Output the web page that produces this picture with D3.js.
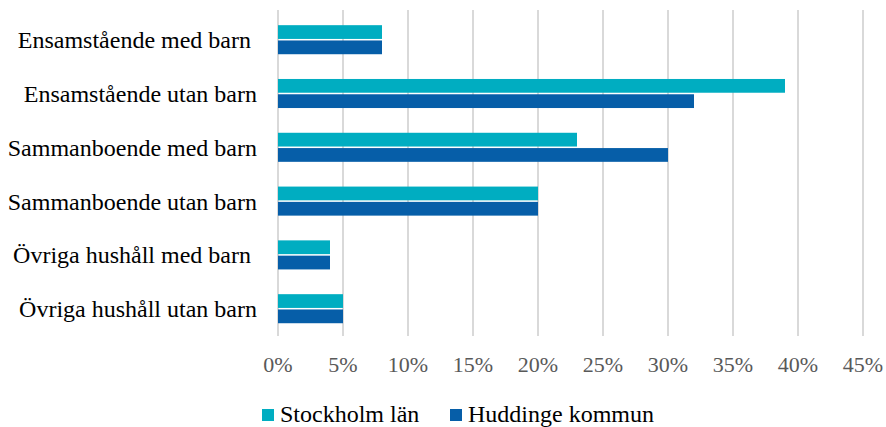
<!DOCTYPE html>
<html lang="sv">

<head>
    <meta charset="UTF-8">
    <title>Hushåll</title>
    <style>
        body { margin: 0; background: #fff; }
    </style>
</head>

<body>
    <svg id="svg" width="886" height="427" font-family="Liberation Serif, serif"></svg>

    <script src="https://d3js.org/d3.v7.min.js"></script>
    <script>
        const categories = [
            'Ensamstående med barn ',
            'Ensamstående utan barn',
            'Sammanboende med barn',
            'Sammanboende utan barn',
            'Övriga hushåll med barn ',
            'Övriga hushåll utan barn'
        ]
        const seriesNames = ['Stockholm län', 'Huddinge kommun']
        const stockholm = [8, 39, 23, 20, 4, 5]
        const huddinge = [8, 32, 30, 20, 4, 5]
        const ticks = [0, 5, 10, 15, 20, 25, 30, 35, 40, 45]
        const colors = ['#00adc1', '#065ea8']

        const data = categories.map((c, i) => ({
            cat: c,
            values: [stockholm[i], huddinge[i]]
        }))

        const svg = d3.select('#svg')

        const xScale = d3.scaleLinear()
            .domain([0, 45])
            .range([278, 863])

        const yScale = d3.scaleBand()
            .domain(categories)
            .range([12.8, 335.6])
            .paddingInner(0.46)
            .paddingOuter(0.23)

        const inner = d3.scaleBand()
            .domain(seriesNames)
            .range([0, yScale.bandwidth()])
            .paddingInner(0.1)

        // gridlines
        svg.append('g')
            .selectAll('line')
            .data(ticks)
            .enter()
            .append('line')
            .attr('x1', d => xScale(d))
            .attr('x2', d => xScale(d))
            .attr('y1', 10)
            .attr('y2', 336)
            .attr('stroke', '#d9d9d9')
            .attr('stroke-width', 2)

        // x tick labels
        svg.append('g')
            .selectAll('text')
            .data(ticks)
            .enter()
            .append('text')
            .attr('x', d => xScale(d))
            .attr('y', 371.5)
            .attr('text-anchor', 'middle')
            .attr('font-family', 'Liberation Serif, serif')
            .attr('font-size', 22)
            .attr('fill', '#595959')
            .text(d => d + '%')

        // bars
        const groups = svg.append('g')
            .selectAll('g')
            .data(data)
            .enter()
            .append('g')
            .attr('transform', d => `translate(0,${yScale(d.cat)})`)

        groups.selectAll('rect')
            .data(d => d.values.map((v, i) => ({ v: v, s: seriesNames[i], i: i })))
            .enter()
            .append('rect')
            .attr('x', xScale(0))
            .attr('y', d => inner(d.s))
            .attr('width', d => xScale(d.v) - xScale(0))
            .attr('height', inner.bandwidth())
            .attr('fill', d => colors[d.i])

        // category labels
        svg.append('g')
            .selectAll('text')
            .data(categories)
            .enter()
            .append('text')
            .attr('x', 257)
            .attr('y', d => yScale(d) + yScale.bandwidth() / 2)
            .attr('dy', '0.35em')
            .attr('text-anchor', 'end')
            .attr('font-family', 'Liberation Serif, serif')
            .attr('font-size', 24)
            .attr('fill', '#000')
            .style('white-space', 'pre')
            .text(d => d)

        // legend
        const legendX = [262, 450]
        const legend = svg.append('g')
            .selectAll('g')
            .data(seriesNames)
            .enter()
            .append('g')
            .attr('transform', (d, i) => `translate(${legendX[i]},409)`)

        legend.append('rect')
            .attr('width', 12)
            .attr('height', 12)
            .attr('fill', (d, i) => colors[i])

        legend.append('text')
            .attr('x', 18)
            .attr('y', 12.5)
            .attr('font-family', 'Liberation Serif, serif')
            .attr('font-size', 24)
            .attr('fill', '#000')
            .text(d => d)
    </script>
</body>

</html>
